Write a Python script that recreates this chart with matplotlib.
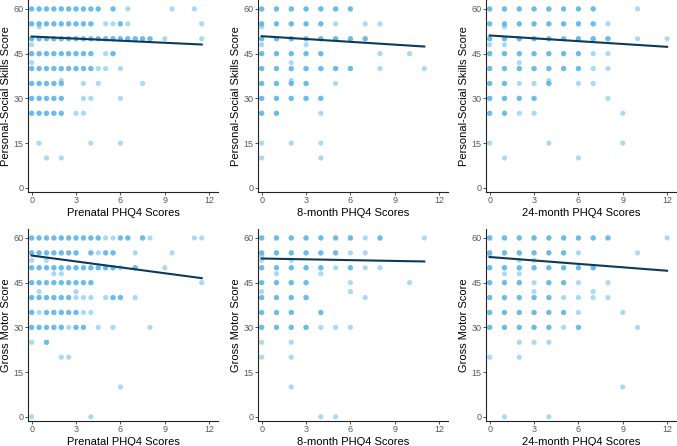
import numpy as np
import matplotlib
matplotlib.use("Agg")
import matplotlib.pyplot as plt

plt.rcParams['font.family'] = ['Liberation Sans', 'DejaVu Sans']

# each panel: {score: (frequent x values, rare x values)}
half = lambda a, b: list(np.arange(a, b + 0.25, 0.5))

ps_prenatal = {
    60: (half(0, 4.5) + [5.5], [6.5, 9.5, 11]),
    55: (half(0, 4) + [6], [5, 5.5, 6.5, 11.5]),
    54: ([], [0.5]),
    50: (half(0, 8), [9, 11.5]),
    48: ([], [0]),
    45: (half(0, 4) + [5.5], [5]),
    42: ([], [0]),
    40: (half(0, 4), [4.5, 5, 6]),
    36: ([], [2]),
    35: (half(0, 2), [3.5, 4.5, 7.5]),
    30: (half(0, 2), [3.5, 4, 6]),
    25: (half(0, 2), [3, 3.5]),
    15: ([], [0.5, 4, 6]),
    10: ([], [1, 2]),
}
ps_8m = {
    60: ([0, 1, 2, 3, 4, 5, 6], []),
    55: ([0, 1, 2, 3, 4], [5, 7, 8]),
    54: ([], [0]),
    50: ([0, 1, 2, 3, 4, 5, 6, 7], []),
    48: ([], [0, 3]),
    45: ([0, 1, 2, 3, 4], [8, 10]),
    42: ([], [2]),
    40: ([0, 1, 2, 3, 4, 5, 6], [8, 11]),
    36: ([], [2]),
    35: ([0, 1, 2, 3], [5]),
    30: ([0, 1, 2, 3, 4], []),
    25: ([0, 1], [4]),
    15: ([], [0, 2, 4]),
    10: ([], [0, 4]),
}
ps_24m = {
    60: ([0, 1, 2, 3, 4, 5, 6, 7], [10]),
    55: ([0, 1, 2, 3, 4, 5, 6, 7], [8]),
    54: ([], [1]),
    50: ([0, 1, 2, 3, 4, 5, 6, 7, 8], [10, 12]),
    48: ([], [0, 1]),
    45: ([0, 1, 2, 3, 4, 5, 6], [7, 8]),
    42: ([], [2]),
    40: ([0, 1, 2, 3, 4, 5, 6], [7, 8]),
    36: ([], [4]),
    35: ([0, 1, 4], [2, 3, 6, 7]),
    30: ([0, 1, 2, 3], [8]),
    25: ([0, 1], [2, 3, 9]),
    15: ([], [0, 4, 9]),
    10: ([], [1, 6]),
}
gm_prenatal = {
    60: (half(0, 4.5) + [6, 6.5, 7.5], [5, 5.5, 8, 11, 11.5]),
    55: (half(0, 3) + [4, 5, 5.5], [4.5, 7, 9.5]),
    52.5: ([], [0, 1]),
    50: (half(0, 5.5) + [7], [6, 9]),
    48: ([], [1.5, 2]),
    45: (half(0, 4), [11.5]),
    42: ([], [0.5, 3]),
    40: (half(0, 2.5) + [5.5, 6], [3, 3.5, 4, 5, 7]),
    35: ([0, 1, 1.5, 2, 2.5, 3], [0.5, 3.5, 4]),
    30: ([0, 0.5, 1, 1.5, 2, 3, 3.5], [2.5, 4.5, 5.5, 8]),
    25: ([1], [0]),
    20: ([], [2, 2.5]),
    10: ([], [6]),
    0: ([], [0, 4]),
}
gm_8m = {
    60: ([0, 1, 2, 3, 4, 5, 6, 8], [7, 11]),
    55: ([0, 1, 2, 3, 4, 5], [6, 7]),
    54: ([], [0]),
    52.5: ([], [0, 2]),
    50: ([0, 1, 2, 3, 4, 6], [5, 7, 8]),
    48: ([], [1, 4]),
    45: ([0, 1, 2, 3], [6, 10]),
    42: ([], [0, 6]),
    40: ([0, 1, 2, 3], [7]),
    35: ([0, 1, 2, 4], []),
    30: ([0, 1, 2, 3], [4, 5, 6]),
    25: ([], [0, 2]),
    20: ([], [0, 2]),
    10: ([], [2]),
    0: ([], [4, 5]),
}
gm_24m = {
    60: ([0, 1, 2, 3, 4, 5, 6, 7, 8], [12]),
    55: ([0, 1, 2, 3, 4, 5], [6, 10]),
    54: ([], [0]),
    52.5: ([], [2, 3]),
    50: ([0, 1, 2, 3, 4, 5, 6, 7], []),
    48: ([], [1, 2]),
    45: ([0, 1, 2, 4, 5], [3, 6, 8]),
    42: ([], [3, 7]),
    40: ([0, 1, 2, 3, 4], [5, 6, 7, 8]),
    35: ([0, 1, 2, 3, 4, 5], [6, 9]),
    30: ([0, 1, 2, 3, 4, 6], [5, 10]),
    25: ([], [2, 3, 4]),
    20: ([], [0, 2]),
    10: ([], [9]),
    0: ([], [1, 4]),
}

# fitted lines: (intercept, slope)
fits = [(50.75, -0.233), (50.86, -0.315), (51.1, -0.317),
        (54.1, -0.66), (53.1, -0.09), (53.6, -0.383)]

panels = [ps_prenatal, ps_8m, ps_24m, gm_prenatal, gm_8m, gm_24m]
xlabels = ["Prenatal PHQ4 Scores", "8-month PHQ4 Scores", "24-month PHQ4 Scores"] * 2
ylabels = ["Personal-Social Skills Score"] * 3 + ["Gross Motor Score"] * 3

W, H = 677, 446
fig = plt.figure(figsize=(W / 100, H / 100), dpi=100)
lefts = [28, 258, 486]
tops = [0, 229]
aw, ah = 190, 192

for i, data in enumerate(panels):
    r, c = divmod(i, 3)
    ax = fig.add_axes([lefts[c] / W, 1 - (tops[r] + ah) / H, aw / W, ah / H])
    xs, ys = [], []
    for score, (freq, rare) in data.items():
        for x in freq:
            xs += [x] * 3
            ys += [score] * 3
        for x in rare:
            xs.append(x)
            ys.append(score)
    ax.scatter(xs, ys, s=14, color='#56B4E9', alpha=0.5, edgecolors='none', zorder=2)
    b0, m = fits[i]
    xl = np.array([0, max(xs)])
    ax.plot(xl, b0 + m * xl, color='#0d3a59', lw=1.5, zorder=3)
    ax.set_xlim(-0.25, 12.6)
    ax.set_ylim(-1.4, 63)
    ax.set_xticks([0, 3, 6, 9, 12])
    ax.set_yticks([0, 15, 30, 45, 60])
    for s in ['top', 'right']:
        ax.spines[s].set_visible(False)
    for s in ['left', 'bottom']:
        ax.spines[s].set_linewidth(0.8)
        ax.spines[s].set_color('#222222')
    ax.tick_params(length=2.2, width=0.6, color='#333333', labelsize=6.5,
                   labelcolor='#5a5a5a', pad=1)
    ax.set_xlabel(xlabels[i], fontsize=8, labelpad=1.5)
    ax.set_ylabel(ylabels[i], fontsize=8, labelpad=1.5)

fig.savefig("out.png", dpi=100)
